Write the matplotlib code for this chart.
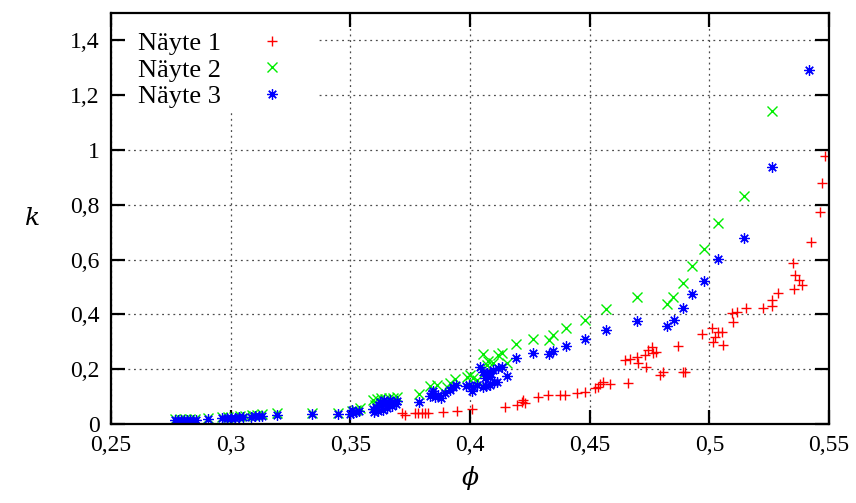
"""plot.py — permeability k vs porosity phi for three samples (gnuplot-style scatter)."""
import matplotlib
matplotlib.use("Agg")
import matplotlib.pyplot as plt
from matplotlib.patches import Rectangle
from matplotlib.ticker import FuncFormatter, MultipleLocator

plt.rcParams["font.family"] = ["Liberation Serif", "DejaVu Serif"]
plt.rcParams["mathtext.fontset"] = "dejavuserif"

# Näyte 1 (red +)
phi_1 = [0.3716, 0.3728, 0.3770, 0.3783, 0.3799, 0.3812, 0.3825, 0.3887, 0.3946, 0.4008,
         0.4146, 0.4196, 0.4217, 0.4221, 0.4230, 0.4284, 0.4326, 0.4376, 0.4397, 0.4447,
         0.4481, 0.4522, 0.4535, 0.4543, 0.4556, 0.4585, 0.4660, 0.4648, 0.4669, 0.4698,
         0.4702, 0.4735, 0.4731, 0.4744, 0.4760, 0.4765, 0.4777, 0.4794, 0.4806, 0.4869,
         0.4890, 0.4898, 0.4969, 0.5011, 0.5024, 0.5015, 0.5036, 0.5053, 0.5057, 0.5099,
         0.5095, 0.5116, 0.5153, 0.5224, 0.5262, 0.5262, 0.5287, 0.5350, 0.5358, 0.5375,
         0.5387, 0.5354, 0.5425, 0.5462, 0.5471, 0.5483]
k_1 = [0.040, 0.033, 0.040, 0.040, 0.040, 0.040, 0.040, 0.044, 0.047, 0.055,
       0.062, 0.069, 0.080, 0.087, 0.077, 0.098, 0.106, 0.106, 0.106, 0.113,
       0.117, 0.131, 0.135, 0.146, 0.153, 0.146, 0.149, 0.233, 0.237, 0.244,
       0.222, 0.208, 0.252, 0.270, 0.281, 0.259, 0.262, 0.179, 0.190, 0.284,
       0.190, 0.190, 0.328, 0.350, 0.317, 0.299, 0.335, 0.335, 0.288, 0.372,
       0.405, 0.408, 0.423, 0.423, 0.430, 0.452, 0.478, 0.587, 0.543, 0.525,
       0.507, 0.492, 0.664, 0.773, 0.879, 0.977]

# Näyte 2 (green x)
phi_2 = [0.2767, 0.2788, 0.2809, 0.2830, 0.2851, 0.2905, 0.2964, 0.2989, 0.3014, 0.3039,
         0.3060, 0.3089, 0.3110, 0.3131, 0.3194, 0.3340, 0.3448, 0.3507, 0.3524, 0.3540,
         0.3595, 0.3611, 0.3628, 0.3645, 0.3661, 0.3678, 0.3695, 0.3603, 0.3636, 0.3670,
         0.3787, 0.3833, 0.3862, 0.3904, 0.3916, 0.3937, 0.3987, 0.4012, 0.4029, 0.4000,
         0.4054, 0.4075, 0.4071, 0.4096, 0.4117, 0.4134, 0.4154, 0.4192, 0.4263, 0.4330,
         0.4347, 0.4401, 0.4480, 0.4568, 0.4698, 0.4823, 0.4848, 0.4890, 0.4927, 0.4978,
         0.5036, 0.5145, 0.5262]
k_2 = [0.018, 0.018, 0.018, 0.018, 0.018, 0.022, 0.026, 0.026, 0.026, 0.029,
       0.029, 0.033, 0.033, 0.037, 0.040, 0.040, 0.040, 0.047, 0.051, 0.058,
       0.088, 0.091, 0.095, 0.091, 0.095, 0.095, 0.098, 0.069, 0.077, 0.080,
       0.109, 0.139, 0.142, 0.135, 0.149, 0.164, 0.171, 0.168, 0.160, 0.179,
       0.255, 0.230, 0.215, 0.222, 0.252, 0.259, 0.222, 0.292, 0.310, 0.306,
       0.324, 0.350, 0.379, 0.419, 0.463, 0.438, 0.463, 0.514, 0.576, 0.638,
       0.733, 0.831, 1.141]

# Näyte 3 (blue asterisk)
phi_3 = [0.2767, 0.2780, 0.2792, 0.2805, 0.2818, 0.2830, 0.2843, 0.2855, 0.2905, 0.2964,
         0.2985, 0.3001, 0.3018, 0.3035, 0.3052, 0.3085, 0.3102, 0.3118, 0.3131, 0.3194,
         0.3340, 0.3448, 0.3499, 0.3511, 0.3524, 0.3536, 0.3507,
         0.3595, 0.3607, 0.3620, 0.3632, 0.3645, 0.3657, 0.3670, 0.3682, 0.3695, 0.3599,
         0.3616, 0.3636, 0.3653, 0.3674, 0.3624, 0.3641, 0.3666, 0.3691,
         0.3787, 0.3833, 0.3841, 0.3854, 0.3866, 0.3845, 0.3879, 0.3895, 0.3916, 0.3929,
         0.3941, 0.3983, 0.3996, 0.4012, 0.4029, 0.4008, 0.4054, 0.4067, 0.4083, 0.4071,
         0.4083, 0.4096, 0.4113, 0.4042, 0.4054, 0.4071, 0.4063, 0.4083, 0.4100, 0.4117,
         0.4134, 0.4154, 0.4192, 0.4263, 0.4330, 0.4347, 0.4401, 0.4480, 0.4568, 0.4698,
         0.4823, 0.4852, 0.4890, 0.4927, 0.4978, 0.5036, 0.5145, 0.5262, 0.5416]
k_3 = [0.015, 0.015, 0.015, 0.015, 0.015, 0.015, 0.015, 0.015, 0.018, 0.022,
       0.022, 0.022, 0.022, 0.026, 0.026, 0.026, 0.029, 0.029, 0.029, 0.033,
       0.037, 0.037, 0.037, 0.040, 0.044, 0.047, 0.051,
       0.055, 0.062, 0.069, 0.073, 0.077, 0.073, 0.077, 0.080, 0.084, 0.044,
       0.047, 0.051, 0.058, 0.066, 0.080, 0.088, 0.088, 0.073,
       0.080, 0.102, 0.113, 0.098, 0.106, 0.120, 0.095, 0.113, 0.124, 0.135,
       0.142, 0.139, 0.142, 0.135, 0.142, 0.120, 0.135, 0.139, 0.142, 0.186,
       0.171, 0.197, 0.153, 0.208, 0.190, 0.179, 0.168, 0.186, 0.153, 0.204,
       0.208, 0.175, 0.241, 0.259, 0.255, 0.266, 0.284, 0.310, 0.343, 0.376,
       0.357, 0.379, 0.423, 0.474, 0.521, 0.602, 0.678, 0.937, 1.291]

labels = ["Näyte 1", "Näyte 2", "Näyte 3"]


def comma(v, _pos):
    return f"{v:g}".replace(".", ",")


fig = plt.figure(figsize=(8.56, 5.03), dpi=100)
ax = fig.add_axes([0.1297, 0.157, 0.8388, 0.817])

ax.plot(phi_1, k_1, ls="none", marker="+", color="#ff0000", ms=7.5, mew=1.0, label=labels[0])
ax.plot(phi_2, k_2, ls="none", marker="x", color="#00ee00", ms=6.5, mew=1.0, label=labels[1])
ax.plot(phi_3, k_3, ls="none", marker=(8, 2, 0), color="#0000ff", ms=7.5, mew=0.9, label=labels[2])

ax.set_xlim(0.25, 0.55)
ax.set_ylim(0, 1.5)
ax.xaxis.set_major_locator(MultipleLocator(0.05))
ax.yaxis.set_major_locator(MultipleLocator(0.2))
ax.xaxis.set_major_formatter(FuncFormatter(comma))
ax.yaxis.set_major_formatter(FuncFormatter(comma))
ax.tick_params(direction="in", length=10, width=1.6, top=True, right=True,
               labelsize=17, pad=8)

ax.set_axisbelow(True)
ax.grid(True, ls=(0, (1.5, 3)), color="0.3", lw=0.9)
for s in ax.spines.values():
    s.set_linewidth(1.6)

# white patch so grid does not run through the key (gnuplot look)
ax.add_patch(Rectangle((0.022, 0.757), 0.266, 0.243, transform=ax.transAxes,
                       fc="white", ec="none", zorder=1))

ax.legend(loc="upper left", bbox_to_anchor=(0.0376, 0.955), frameon=False,
          markerfirst=False, handlelength=1.0, handletextpad=1.45,
          labelspacing=0.12, fontsize=19, borderaxespad=0, borderpad=0)

ax.set_xlabel(r"$\phi$", fontsize=18, labelpad=6)
ax.set_ylabel(r"$k$", fontsize=18, rotation=0, labelpad=28, va="center")

fig.savefig("out.png", dpi=100)
